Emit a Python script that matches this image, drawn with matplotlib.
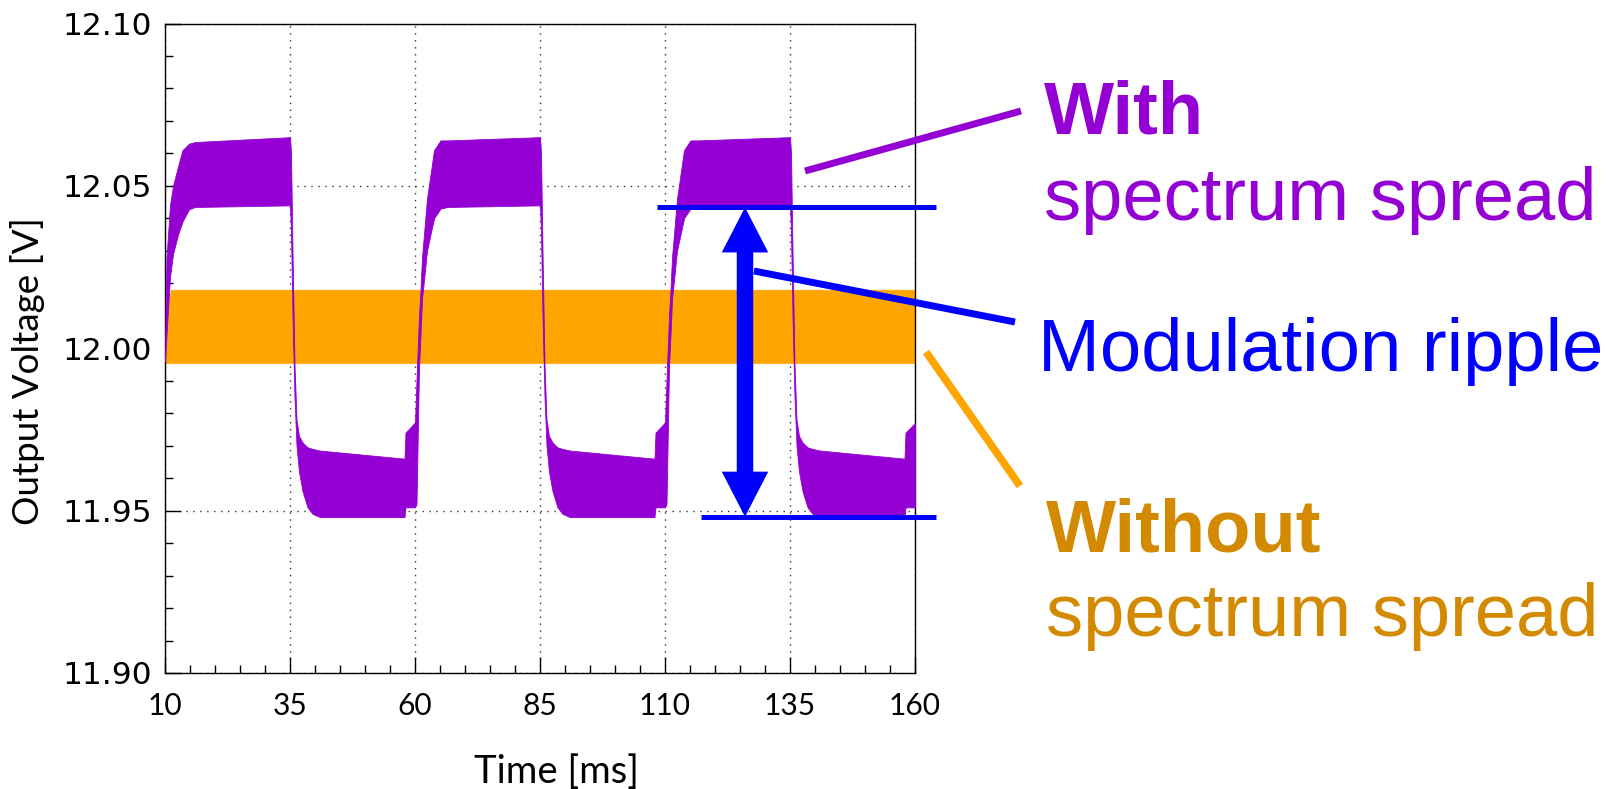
import matplotlib
matplotlib.use("Agg")
import matplotlib.pyplot as plt
from matplotlib.lines import Line2D
from matplotlib.patches import FancyArrow
from matplotlib.ticker import MultipleLocator, FormatStrFormatter

# --- envelope of the trace without spectrum spread (orange band) ---
t_without = [10.0, 10.4, 11.2, 160.0]
hi_without = [12.002, 12.012, 12.018, 12.018]
lo_without = [11.9955, 11.9955, 11.9955, 11.9955]

# --- envelope of the trace with spectrum spread (purple band) ---
t_with = [10.0, 10.3, 11.0, 11.6, 12.6, 13.5, 14.8, 16.0, 35.0,
          35.2, 35.5, 35.9, 36.3, 36.8, 37.5, 38.5, 39.5, 41.0, 57.9, 58.1, 59.9,
          60.0, 60.3, 60.8, 61.1, 61.4, 62.4, 63.8, 65.1, 66.5, 85.0,
          85.2, 85.5, 85.9, 86.3, 86.8, 87.5, 88.5, 89.5, 91.0, 107.9, 108.1, 109.9,
          110.0, 110.3, 110.8, 111.1, 111.4, 112.4, 113.8, 115.1, 116.5, 135.0,
          135.2, 135.5, 135.9, 136.3, 136.8, 137.5, 138.5, 139.5, 141.0, 157.9, 158.1, 160.0]
hi_with = [12.000, 12.028, 12.044, 12.050, 12.056, 12.061, 12.063, 12.0635, 12.065,
           12.060, 12.030, 11.995, 11.978, 11.973, 11.971, 11.9695, 11.969, 11.9685, 11.966, 11.974, 11.977,
           11.977, 11.990, 12.010, 12.018, 12.028, 12.046, 12.061, 12.064, 12.064, 12.065,
           12.060, 12.030, 11.995, 11.978, 11.973, 11.971, 11.9695, 11.969, 11.9685, 11.966, 11.974, 11.977,
           11.977, 11.990, 12.010, 12.018, 12.028, 12.046, 12.061, 12.064, 12.064, 12.065,
           12.060, 12.030, 11.995, 11.978, 11.973, 11.971, 11.9695, 11.969, 11.9685, 11.966, 11.974, 11.977]
lo_with = [11.996, 12.004, 12.022, 12.029, 12.035, 12.039, 12.0428, 12.0435, 12.044,
           12.036, 12.010, 11.985, 11.970, 11.962, 11.956, 11.951, 11.949, 11.948, 11.948, 11.951, 11.951,
           11.951, 11.952, 11.994, 12.004, 12.015, 12.030, 12.040, 12.043, 12.0435, 12.044,
           12.036, 12.010, 11.985, 11.970, 11.962, 11.956, 11.951, 11.949, 11.948, 11.948, 11.951, 11.951,
           11.951, 11.952, 11.994, 12.004, 12.015, 12.030, 12.040, 12.043, 12.0435, 12.044,
           12.036, 12.010, 11.985, 11.970, 11.962, 11.956, 11.951, 11.949, 11.948, 11.948, 11.951, 11.951]

# modulation ripple markers (data coords)
ripple_top = 12.0434
ripple_bottom = 11.9481
arrow_t = 126.0

x_ticks = [10, 35, 60, 85, 110, 135, 160]

PURPLE = "#9400D3"
ORANGE = "#FFA500"
ORANGE_TXT = "#D48A00"
BLUE = "#0000FF"

W, H = 1608, 789
fig = plt.figure(figsize=(W / 100, H / 100), dpi=100)
ax = fig.add_axes([165 / W, 1 - 673 / H, 750 / W, 649.5 / H])


def fx(x):
    return x / W


def fy(y):
    return 1 - y / H


# bands
ax.fill_between(t_without, lo_without, hi_without, color=ORANGE, lw=0.6, zorder=2)
ax.fill_between(t_with, lo_with, hi_with, color=PURPLE, lw=0.6, zorder=3)

ax.set_xlim(10, 160)
ax.set_ylim(11.90, 12.10)
ax.set_xticks(x_ticks)
ax.xaxis.set_minor_locator(MultipleLocator(5))
ax.yaxis.set_major_locator(MultipleLocator(0.05))
ax.yaxis.set_minor_locator(MultipleLocator(0.01))
ax.yaxis.set_major_formatter(FormatStrFormatter("%.2f"))

ax.tick_params(which="both", direction="in", top=False, right=False, width=1.0, color="black")
ax.tick_params(which="major", length=11.5)
ax.tick_params(which="minor", length=5.5)
ax.tick_params(axis="y", pad=9, labelsize=22.5)
ax.tick_params(axis="x", pad=14, labelsize=21.5)
for lab in ax.get_yticklabels():
    lab.set_fontfamily("DejaVu Sans")
for lab in ax.get_xticklabels():
    lab.set_fontfamily("Lato")

for s in ax.spines.values():
    s.set_linewidth(1.0)

ax.set_axisbelow(True)
ax.grid(which="major", color="#333333", linestyle=(0, (1, 4)), linewidth=1.0)

fig.text(fx(28), fy(371), "Output Voltage [V]", rotation=90, ha="center", va="center",
         fontsize=26.5, family="Lato")
fig.text(fx(557), fy(772), "Time [ms]", ha="center", va="center", fontsize=27.5, family="Lato")

# modulation ripple: horizontal levels + double arrow
ax.plot([108.3, 164.2], [ripple_top, ripple_top], color=BLUE, lw=3.6, clip_on=False,
        solid_capstyle="butt", zorder=5)
ax.plot([117.2, 164.2], [ripple_bottom, ripple_bottom], color=BLUE, lw=3.6, clip_on=False,
        solid_capstyle="butt", zorder=5)
mid = (ripple_top + ripple_bottom) / 2
for end in (ripple_top, ripple_bottom):
    ax.add_patch(FancyArrow(arrow_t, mid, 0, end - mid, width=3.3, head_width=9.3,
                            head_length=0.0139, length_includes_head=True,
                            color=BLUE, lw=0, zorder=6))

# pointer lines
pointers = [((805, 171), (1021, 111), PURPLE, 5.0),
            ((754, 271), (1015, 322), BLUE, 5.0),
            ((926, 352), (1020, 486), ORANGE, 5.5)]
for (x0, y0), (x1, y1), c, lw in pointers:
    fig.add_artist(Line2D([fx(x0), fx(x1)], [fy(y0), fy(y1)], color=c, lw=lw,
                          solid_capstyle="butt", transform=fig.transFigure))

fs = 53.5
fam = "Liberation Sans"
fig.text(fx(1044), fy(133), "With", color=PURPLE, fontsize=fs, family=fam,
         fontweight="bold", va="baseline")
fig.text(fx(1044), fy(220), "spectrum spread", color=PURPLE, fontsize=fs, family=fam,
         va="baseline")
fig.text(fx(1038), fy(371), "Modulation ripple", color=BLUE, fontsize=fs, family=fam,
         va="baseline")
fig.text(fx(1046), fy(551), "Without", color=ORANGE_TXT, fontsize=fs, family=fam,
         fontweight="bold", va="baseline")
fig.text(fx(1046), fy(636), "spectrum spread", color=ORANGE_TXT, fontsize=fs, family=fam,
         va="baseline")

fig.savefig("out.png", dpi=100)
